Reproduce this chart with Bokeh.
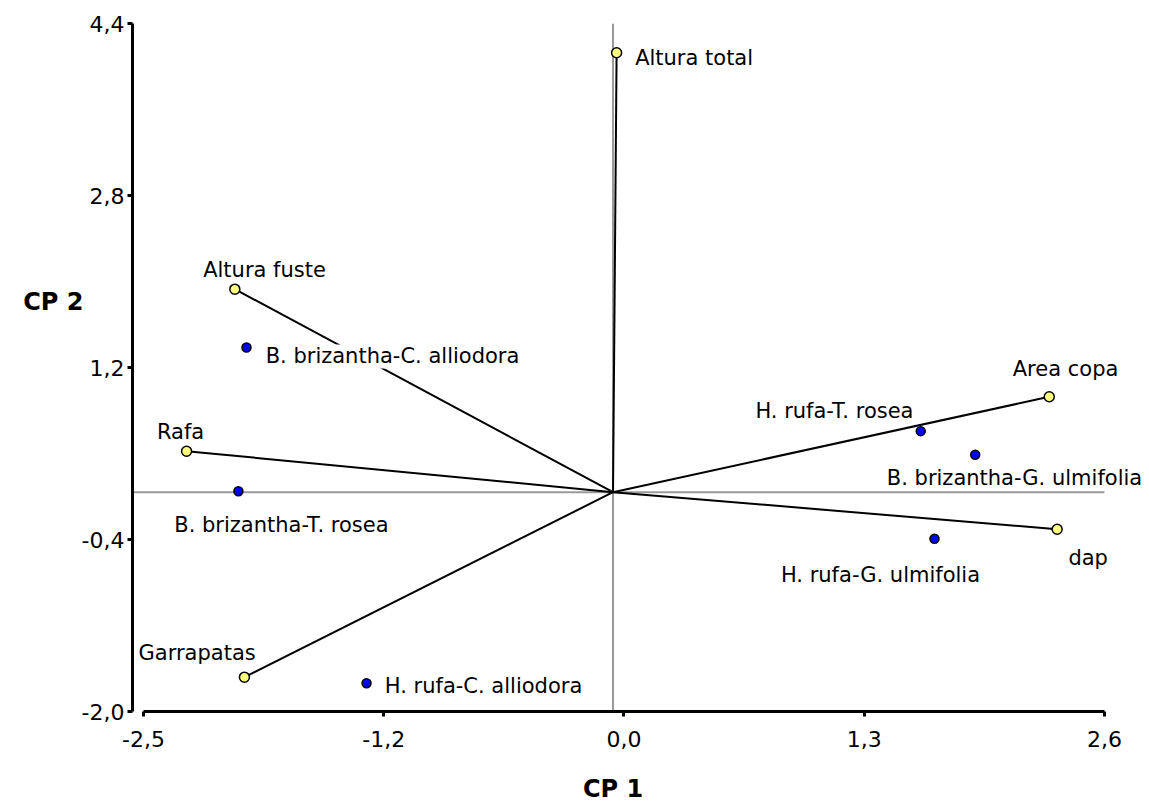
from bokeh.plotting import figure
from bokeh.models import ColumnDataSource, Range1d, FixedTicker, Span, LabelSet, LinearAxis
from bokeh.core.properties import value
from bokeh.embed import file_html
from bokeh.resources import INLINE

# --- data ---
var_names = ["Altura total", "Altura fuste", "Rafa", "Garrapatas", "Area copa", "dap"]
var_cp1 = [0.019, -2.007, -2.263, -1.956, 2.315, 2.357]
var_cp2 = [4.095, 1.892, 0.382, -1.724, 0.889, -0.345]

trt_names = ["B. brizantha-C. alliodora", "B. brizantha-T. rosea", "H. rufa-C. alliodora",
             "H. rufa-T. rosea", "B. brizantha-G. ulmifolia", "H. rufa-G. ulmifolia"]
trt_cp1 = [-1.945, -1.988, -1.308, 1.633, 1.922, 1.706]
trt_cp2 = [1.349, 0.009, -1.780, 0.569, 0.349, -0.434]

x_ticks = [-2.492, -1.217, 0.058, 1.333, 2.608]
x_tick_labels = ["-2,5", "-1,2", "0,0", "1,3", "2,6"]
y_ticks = [-2.044, -0.441, 1.162, 2.765, 4.368]
y_tick_labels = ["-2,0", "-0,4", "1,2", "2,8", "4,4"]

x_title, x_title_at = "CP 1", 0.0
y_title, y_title_at = "CP 2", 1.768

# label offsets in screen pixels (x right, y up)
var_dx = [77.5, 29.7, -6.0, -47.3, 16.3, 31.0]
var_dy = [-12.7, 12.0, 12.4, 17.4, 20.3, -36.3]
trt_dx = [146.0, 43.0, 117.0, -86.3, 39.3, -54.0]
trt_dy = [-16.0, -41.0, -10.3, 13.4, -30.0, -43.4]

FONT = "DejaVu Sans"
x_lo, x_hi = -2.55, 2.847
y_lo, y_hi = -2.044, 4.368

p = figure(width=1149, height=805, output_backend="svg", toolbar_location=None,
           x_range=Range1d(x_lo, x_hi), y_range=Range1d(y_lo, y_hi),
           min_border_left=132, min_border_right=0, min_border_top=23, min_border_bottom=94)
p.outline_line_color = None
p.xgrid.visible = False
p.ygrid.visible = False
p.background_fill_color = "white"
p.border_fill_color = "white"

for ax, ticks, labels, standoff in ((p.xaxis[0], x_ticks, x_tick_labels, 14),
                                     (p.yaxis[0], y_ticks, y_tick_labels, 3)):
    ax.ticker = FixedTicker(ticks=ticks)
    ax.major_label_overrides = {t: l for t, l in zip(ticks, labels)}
    ax.axis_line_width = 3
    ax.axis_line_color = "black"
    ax.major_tick_line_width = 3
    ax.major_tick_line_color = "black"
    ax.major_tick_out = 5
    ax.major_tick_in = 0
    ax.minor_tick_line_color = None
    ax.major_label_text_font = FONT
    ax.major_label_text_font_size = "22px"
    ax.major_label_text_color = "black"
    ax.major_label_standoff = standoff
p.xaxis[0].bounds = (x_ticks[0], x_ticks[-1])
p.yaxis[0].bounds = (y_ticks[0], y_ticks[-1])

# axis titles, drawn as the single label of an outer, line-less axis
for side, text, at, standoff in (("below", x_title, x_title_at, 25), ("left", y_title, y_title_at, -5)):
    t_ax = LinearAxis(ticker=FixedTicker(ticks=[at]), major_label_overrides={at: text},
                      axis_line_color=None, major_tick_line_color=None, minor_tick_line_color=None,
                      major_tick_in=0, major_tick_out=0, major_label_standoff=standoff,
                      major_label_text_font=FONT, major_label_text_font_size="24px",
                      major_label_text_font_style="bold", major_label_text_color="black")
    p.add_layout(t_ax, side)

# reference lines through the origin
h_ref = p.segment(x0=[x_lo], y0=[0.0], x1=[x_ticks[-1]], y1=[0.0], line_color="#9a9a9a", line_width=2)
h_ref.level = "underlay"
p.add_layout(Span(location=0, dimension="height", line_color="#9a9a9a", line_width=2, level="underlay"))

vsrc = ColumnDataSource(dict(x=var_cp1, y=var_cp2, x0=[0.0] * len(var_cp1), y0=[0.0] * len(var_cp2),
                             name=var_names, dx=var_dx, dy=var_dy))
tsrc = ColumnDataSource(dict(x=trt_cp1, y=trt_cp2, name=trt_names, dx=trt_dx, dy=trt_dy))

p.segment(x0="x0", y0="y0", x1="x", y1="y", source=vsrc, line_color="black", line_width=2)

for src in (vsrc, tsrc):
    p.add_layout(LabelSet(x="x", y="y", text="name", source=src, x_offset="dx", y_offset="dy",
                          text_font=value(FONT), text_font_size=value("21px"), text_color="black",
                          text_align="center", text_baseline="alphabetic",
                          background_fill_color="white"))

p.scatter(x="x", y="y", source=vsrc, size=10, marker="circle", fill_color="#ffff80",
          line_color="black", line_width=1.5)
p.scatter(x="x", y="y", source=tsrc, size=9, marker="circle", fill_color="#0000ff",
          line_color="black", line_width=1.5)

open("out.html", "w").write(file_html(p, INLINE))
